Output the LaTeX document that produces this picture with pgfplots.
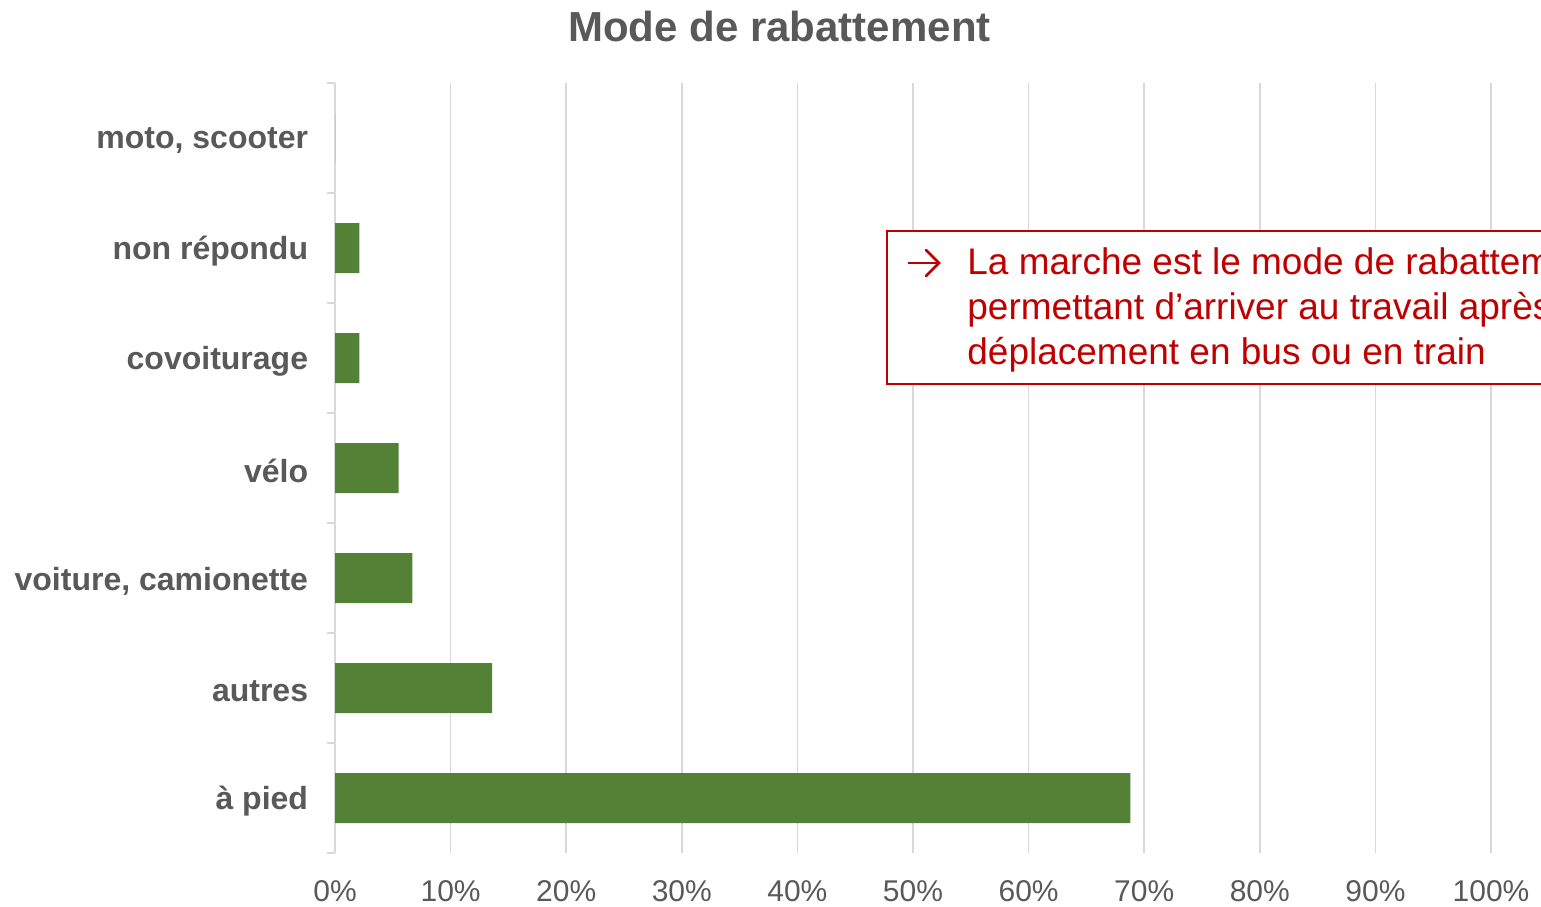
\documentclass[border=0pt]{standalone}
\usepackage{pgfplots}
\pgfplotsset{compat=1.18}
\usepackage{fontspec}
\setmainfont{Liberation Sans}
\definecolor{bargreen}{HTML}{538135}
\definecolor{txtgray}{HTML}{595959}
\definecolor{gridgray}{HTML}{D9D9D9}
\definecolor{annred}{HTML}{C00000}
\begin{document}
\begin{tikzpicture}
\useasboundingbox (0,0) rectangle (770.5pt,453pt);
\clip (0,0) rectangle (770.5pt,453pt);
\begin{axis}[
  at={(167.5pt,26.5pt)}, anchor=south west,
  scale only axis, width=578pt, height=385pt,
  xbar, bar width=25pt, bar shift=0pt,
  xmin=0, xmax=100, ymin=-0.5, ymax=6.5,
  xtick={0,10,...,100},
  xticklabel={\pgfmathprintnumber{\tick}\%},
  /pgf/number format/assume math mode=true,
  xmajorgrids, grid style={draw=gridgray, line width=0.75pt},
  xtick style={draw=none},
  axis lines*=left,
  x axis line style={draw=none},
  y axis line style={draw=gridgray, line width=0.75pt, -},
  ytick={0,...,6},
  yticklabels={à pied,autres,{voiture, camionette},vélo,covoiturage,non répondu,{moto, scooter}},
  ytick style={draw=none},
  extra y ticks={-0.5,0.5,...,6.5},
  extra y tick labels={},
  extra y tick style={major tick length=4pt, tick align=outside,
     ytick style={draw=gridgray, line width=0.75pt}, ymajorgrids=false, xmajorgrids=false},
  yticklabel style={anchor=east, inner sep=0pt, xshift=-9pt, yshift=-1.5pt, font=\fontsize{16}{19}\selectfont\bfseries, text=txtgray},
  xticklabel style={anchor=north, inner sep=0pt, yshift=-13.5pt, font=\fontsize{15}{18}\selectfont, text=txtgray},
  clip=false,
]
\addplot[fill=bargreen, draw=none] coordinates {
(68.8,0) (13.6,1) (6.7,2) (5.5,3) (2.1,4) (2.1,5) (0,6)
};
\end{axis}
\node[anchor=base, font=\fontsize{21}{25}\selectfont\bfseries, text=txtgray] at (389.75pt,432pt) {Mode de rabattement};
\draw[annred, line width=0.75pt, fill=white] (443.5pt,337.5pt) rectangle (820pt,261pt);
\draw[annred, line width=1.4pt] (454pt,321.5pt) -- (469.5pt,321.5pt);
\draw[annred, line width=1.4pt, line cap=round, line join=miter] (463pt,328pt) -- (469.5pt,321.5pt) -- (463pt,315pt);
\node[anchor=base west, inner sep=0pt, font=\fontsize{18.5}{22}\selectfont, text=annred] at (483.5pt,315.5pt) {La marche est le mode de rabattement le plus utilisé};
\node[anchor=base west, inner sep=0pt, font=\fontsize{18.5}{22}\selectfont, text=annred] at (483.5pt,293pt) {permettant d’arriver au travail après un};
\node[anchor=base west, inner sep=0pt, font=\fontsize{18.5}{22}\selectfont, text=annred] at (483.5pt,270.5pt) {déplacement en bus ou en train};
\end{tikzpicture}
\end{document}
